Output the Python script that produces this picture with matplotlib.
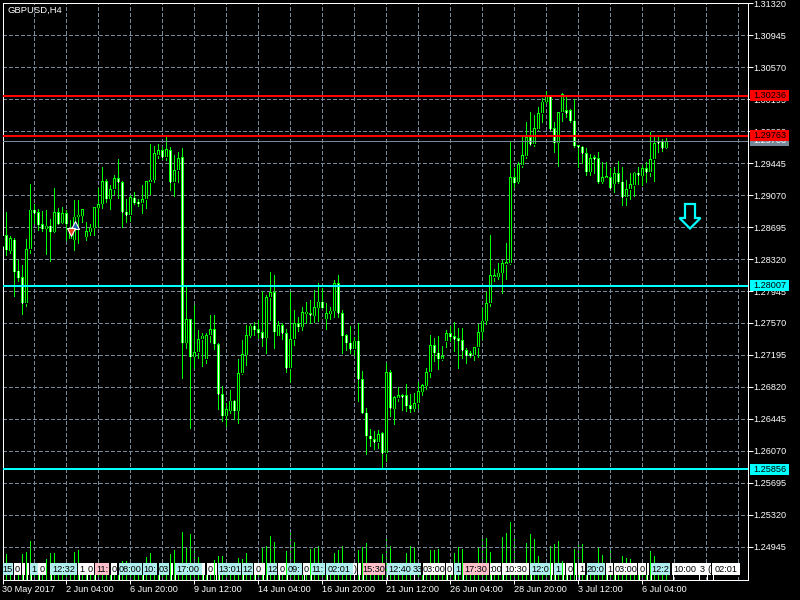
import matplotlib
matplotlib.use('Agg')
import matplotlib.pyplot as plt
import numpy as np
from matplotlib.patches import Rectangle, Polygon

plt.rcParams['font.family'] = ['Liberation Sans', 'DejaVu Sans']

opens = [
    1.28474,1.28599,1.28419,1.28544,1.28181,1.28107,1.27799,1.28435,1.28895,1.28868,
    1.28727,1.28673,1.28712,1.28641,1.28868,1.28747,1.28856,1.28552,1.28544,1.28813,
    1.28825,1.28583,1.28641,1.28688,1.28922,1.28965,1.29230,1.29028,1.29137,1.29265,
    1.29219,1.28875,1.28833,1.29039,1.28985,1.28973,1.29020,1.29219,1.29246,1.29538,
    1.29593,1.29511,1.29593,1.29219,1.29359,1.29511,1.27339,1.27613,1.27175,1.27226,
    1.27382,1.27144,1.27426,1.27496,1.27320,1.26734,1.26484,1.26542,1.26656,1.26542,
    1.26980,1.27195,1.27421,1.27535,1.27496,1.27461,1.27398,1.27871,1.27929,1.27421,
    1.27546,1.27449,1.27039,1.27382,1.27566,1.27527,1.27683,1.27683,1.27655,1.27749,
    1.27819,1.27617,1.27679,1.27714,1.28035,1.27683,1.27426,1.27339,1.27265,1.27363,
    1.26910,1.26519,1.26249,1.26207,1.26175,1.26277,1.26043,1.26992,1.26566,1.26691,
    1.26722,1.26722,1.26605,1.26566,1.26628,1.26765,1.26835,1.26992,1.27308,1.27222,
    1.27148,1.27359,1.27449,1.27414,1.27390,1.27367,1.27250,1.27214,1.27191,1.27285,
    1.27468,1.27597,1.27800,1.28113,1.28113,1.28159,1.28265,1.28269,1.29278,1.29226,
    1.29421,1.29527,1.29746,1.29664,1.29843,1.30027,1.30163,1.30230,1.29851,1.29683,
    1.30039,1.30066,1.30066,1.29941,1.29652,1.29636,1.29558,1.29343,1.29511,1.29500,
    1.29226,1.29273,1.29278,1.29199,1.29324,1.29226,1.29043,1.29137,1.29187,1.29331,
    1.29296,1.29383,1.29336,1.29488,1.29703,1.29695,1.29624]
closes = [
    1.28591,1.28427,1.28564,1.28173,1.28103,1.27799,1.28435,1.28895,1.28856,1.28723,
    1.28677,1.28712,1.28641,1.28868,1.28731,1.28856,1.28731,1.28661,1.28817,1.28836,
    1.28903,1.28645,1.28684,1.28926,1.28961,1.29230,1.29028,1.29137,1.29265,1.29219,
    1.28868,1.28833,1.29043,1.28981,1.28973,1.29020,1.29230,1.29250,1.29558,1.29593,
    1.29511,1.29605,1.29219,1.29359,1.29499,1.27339,1.27613,1.27175,1.27226,1.27382,
    1.27418,1.27429,1.27496,1.27324,1.26734,1.26484,1.26562,1.26656,1.26542,1.26980,
    1.27206,1.27426,1.27535,1.27488,1.27456,1.27394,1.27871,1.27929,1.27468,1.27546,
    1.27449,1.27039,1.27382,1.27566,1.27527,1.27695,1.27695,1.27664,1.27754,1.27819,
    1.27749,1.27683,1.27714,1.28035,1.27683,1.27421,1.27339,1.27265,1.27363,1.26910,
    1.26519,1.26249,1.26214,1.26175,1.26269,1.26043,1.26992,1.26570,1.26699,1.26722,
    1.26703,1.26601,1.26566,1.26628,1.26769,1.26843,1.26992,1.27308,1.27222,1.27152,
    1.27183,1.27449,1.27409,1.27379,1.27363,1.27250,1.27191,1.27187,1.27285,1.27461,
    1.27597,1.27800,1.28129,1.28121,1.28159,1.28269,1.28273,1.29278,1.29214,1.29430,
    1.29535,1.29746,1.29667,1.29851,1.30027,1.30163,1.30230,1.29840,1.29683,1.30039,
    1.30253,1.30027,1.29941,1.29648,1.29636,1.29558,1.29343,1.29500,1.29495,1.29226,
    1.29278,1.29278,1.29148,1.29324,1.29226,1.29043,1.29137,1.29195,1.29331,1.29301,
    1.29383,1.29336,1.29488,1.29676,1.29676,1.29617,1.29695]
highs = [
    1.28591,1.28868,1.28591,1.28564,1.28310,1.28251,1.28552,1.29195,1.28965,1.28903,
    1.28883,1.28895,1.28790,1.29149,1.28914,1.28926,1.28895,1.28778,1.29012,1.29012,
    1.28903,1.28751,1.28731,1.28926,1.29149,1.29394,1.29254,1.29187,1.29301,1.29488,
    1.29238,1.29020,1.29070,1.29102,1.29020,1.29187,1.29234,1.29663,1.29648,1.29667,
    1.29636,1.29745,1.29636,1.29538,1.29577,1.29617,1.27995,1.27613,1.27780,1.27488,
    1.27449,1.27456,1.27664,1.27664,1.27339,1.26832,1.26628,1.26785,1.26667,1.27148,
    1.27371,1.27546,1.27558,1.27585,1.27605,1.27948,1.27898,1.28164,1.28128,1.27593,
    1.27573,1.27496,1.27937,1.27722,1.27644,1.27757,1.27812,1.27839,1.27956,1.28035,
    1.27976,1.27808,1.27761,1.28074,1.28128,1.27722,1.27437,1.27538,1.27409,1.27566,
    1.27007,1.26570,1.26324,1.26304,1.26316,1.26296,1.27097,1.27019,1.26714,1.26816,
    1.26738,1.26852,1.26738,1.26746,1.26882,1.26852,1.27042,1.27426,1.27390,1.27418,
    1.27300,1.27488,1.27535,1.27585,1.27508,1.27508,1.27273,1.27242,1.27285,1.27558,
    1.27742,1.27937,1.28601,1.28199,1.28269,1.28308,1.28504,1.29691,1.29383,1.29451,
    1.29753,1.29929,1.30046,1.30007,1.30105,1.30203,1.30289,1.30230,1.29929,1.30046,
    1.30269,1.30230,1.30074,1.30191,1.29656,1.29648,1.29621,1.29550,1.29538,1.29577,
    1.29453,1.29457,1.29383,1.29394,1.29468,1.29394,1.29246,1.29324,1.29343,1.29394,
    1.29421,1.29460,1.29812,1.29753,1.29753,1.29722,1.29734]
lows = [
    1.28474,1.28369,1.28388,1.27881,1.28068,1.27678,1.27764,1.28396,1.28747,1.28661,
    1.28649,1.28380,1.28302,1.28641,1.28731,1.28739,1.28544,1.28552,1.28427,1.28505,
    1.28755,1.28544,1.28602,1.28602,1.28700,1.28918,1.28993,1.28911,1.29082,1.29039,
    1.28692,1.28759,1.28770,1.28965,1.28946,1.28856,1.28922,1.29082,1.29226,1.29499,
    1.29488,1.29480,1.29129,1.29059,1.29226,1.26925,1.27276,1.26343,1.27042,1.27163,
    1.27069,1.27097,1.27351,1.27261,1.26562,1.26425,1.26366,1.26511,1.26445,1.26402,
    1.26969,1.27078,1.27409,1.27429,1.27390,1.27300,1.27214,1.27605,1.27280,1.27429,
    1.27382,1.26999,1.26875,1.27312,1.27480,1.27488,1.27566,1.27566,1.27585,1.27597,
    1.27742,1.27500,1.27617,1.27644,1.27644,1.27222,1.27253,1.27222,1.27195,1.26659,
    1.26511,1.26034,1.26132,1.26093,1.26101,1.25867,1.25956,1.26484,1.26386,1.26656,
    1.26550,1.26542,1.26527,1.26538,1.26577,1.26726,1.26796,1.26941,1.27124,1.27031,
    1.27136,1.27285,1.27359,1.27242,1.27039,1.27163,1.27105,1.27168,1.27136,1.27168,
    1.27386,1.27558,1.27773,1.28066,1.28082,1.27925,1.28089,1.28258,1.29167,1.29214,
    1.29402,1.29500,1.29656,1.29648,1.29832,1.29929,1.30151,1.29832,1.29577,1.29413,
    1.29937,1.29980,1.29929,1.29636,1.29402,1.29448,1.29304,1.29304,1.29324,1.29207,
    1.29207,1.29269,1.29137,1.29108,1.29214,1.28953,1.28953,1.29019,1.29062,1.29199,
    1.29187,1.29226,1.29296,1.29234,1.29577,1.29589,1.29617]
# bars hidden behind the event tags are estimated as 2
volumes = [
    2,23,2,2,2,23,25,36,2,2, 2,18,24,24,2,2,2,2,25,27,
    2,2,2,2,2,2,2,2,2,2, 16,16,2,2,2,2,20,24,2,2,
    2,2,23,27,2,45,29,43,29,20, 2,2,2,17,21,21,2,2,2,19,
    18,24,2,2,2,30,31,41,35,2, 2,26,47,35,2,2,2,28,29,31,
    2,2,2,24,27,31,2,2,2,27, 30,34,2,2,2,23,41,31,2,2,
    2,24,31,30,2,2,2,27,27,28, 2,2,2,24,30,28,2,2,2,30,
    41,39,25,2,2,40,44,55,39,2, 2,34,43,38,21,2,2,31,33,36,
    16,2,2,28,33,33,2,2,2,30, 22,2,30,2,2,21,19,18,2,2,
    2,2,26,21,2,2,2]

price_ticks = [1.31320,1.30945,1.30570,1.30195,1.29820,1.29445,1.29070,1.28695,1.28320,
               1.27945,1.27570,1.27195,1.26820,1.26445,1.26070,1.25695,1.25320,1.24945]
date_labels = ['30 May 2017','2 Jun 04:00','6 Jun 20:00','9 Jun 12:00','14 Jun 04:00','16 Jun 20:00',
               '21 Jun 12:00','26 Jun 04:00','28 Jun 20:00','3 Jul 12:00','6 Jul 04:00']
red_levels = [1.30236, 1.29763]
cyan_levels = [1.28007, 1.25856]
bid_level = 1.29703

# event tags along the bottom: left px, right px, colour, text
C = '#afeeee'; W = '#ffffff'; P = '#ffc0cb'
event_tags = [
    (2.7,12.7,C,'15'),(13.7,21,W,'0'),(22,25.3,W,''),(26.7,29.3,W,''),(30.3,37.7,C,'1'),(38.3,45.7,W,'0'),
    (50.3,77,C,'12:32'),(78.3,85.7,W,'1'),(86.3,93.7,W,'0'),(94.7,109.3,P,'11:'),(110.7,117.3,W,'0'),
    (118.7,141.7,C,'08:00'),(142.7,157.3,C,'10:'),(158.7,169.3,C,'03'),(170.7,173.3,W,''),(174.7,201.7,C,'17:00'),
    (202,205.3,W,''),(206.7,213.7,W,'0'),(215,217,W,''),(218.3,241,C,'13:01'),(242.3,253.3,C,'12'),
    (254.3,261.7,W,'0'),(262.3,265,W,''),(266.7,277.3,C,'12'),(278.3,285.7,W,'0'),(286.7,302,C,'09:'),
    (303,310,W,'0'),(310.7,325,C,'11:'),(326.3,352.7,C,'02:01'),(353.3,356.7,W,')'),(358.3,361,W,''),
    (362.7,385.3,P,'15:30'),(386.7,413,C,'12:40'),(413.3,421.3,C,'33'),(422.7,445,W,'03:00'),(446,453.3,W,'0'),
    (454.3,461.3,C,'1'),(462.7,489.3,P,'17:30'),(490,501,W,':00'),(502,528.7,W,'10:30'),(530,550,C,'12:0'),
    (550.7,553.3,W,''),(554.3,561.7,C,'1'),(562.7,565,W,''),(566.3,573.3,W,'0'),(575,576.7,W,''),(578,585.3,W,'1'),
    (586.7,605,C,'20:0'),(606,613.3,W,'1'),(614.3,637.3,W,'03:00'),(638.3,645.7,W,'0'),(646.7,649.3,W,''),
    (650.7,670,C,'12:2'),(672,698.3,W,'10:00'),(698.3,706.7,W,'3'),(706.7,711,W,'('),(712.3,740,W,'02:01')]

GREEN = '#00ff00'
GRID = '#778899'
FS = 6.6
LW = 0.72
PX = 0.000117  # price per pixel

fig = plt.figure(figsize=(8, 6), dpi=100, facecolor='black')
rect = [2.5/800, 1 - 579.5/600, 745.5/800, 577/600]
vol_ax = fig.add_axes(rect, facecolor='black')
ax = fig.add_axes(rect, sharex=vol_ax)
ax.patch.set_visible(False)

x = np.arange(len(opens))

# volume, 1 unit = 1 px tall
vol_ax.vlines(x, -2.5, volumes, colors=GREEN, lw=LW, antialiased=False)
vol_ax.set_ylim(-2.5, 574.5)
vol_ax.set_yticks([])
vol_ax.tick_params(bottom=False, labelbottom=False)
for s in vol_ax.spines.values():
    s.set_visible(False)

# candles: wick, 3 px green body, 1 px core
ax.vlines(x, lows, highs, colors=GREEN, lw=LW, antialiased=False, zorder=3)
o = np.array(opens)
c = np.array(closes)
tops = np.maximum(o, c)
bots = np.minimum(o, c)
mids = (tops + bots)/2
heights = np.maximum(tops - bots, 2*PX)
ax.bar(x, heights, bottom=mids - heights/2, width=0.75, color=GREEN, linewidth=0, antialiased=False, zorder=3)
core_cols = ['white' if c[i] < o[i] else 'black' for i in x]
ax.vlines(x, mids - heights/2 + PX/2, mids + heights/2 - PX/2, colors=core_cols, lw=LW, antialiased=False, zorder=3.5)

ax.set_xlim(0.02, 0.02 + 745.5/4)
ax.set_ylim(1.24564, 1.31326)

# levels
ax.axhline(bid_level, color=GRID, lw=LW, zorder=4, antialiased=False)
for p in red_levels:
    ax.axhline(p, color='#ff0000', lw=1.44, zorder=4, antialiased=False)
for p in cyan_levels:
    ax.axhline(p, color='#00ffff', lw=1.44, zorder=4, antialiased=False)

# axes and grid
ax.set_axisbelow(True)
ax.yaxis.tick_right()
ax.set_yticks(price_ticks)
ax.set_yticklabels(['%.5f' % p for p in price_ticks])
ax.set_xticks(np.arange(0, 16*len(date_labels), 16))
ax.set_xticklabels(date_labels)
ax.set_xticks(np.arange(8, 186, 8), minor=True)
for lab in ax.get_xticklabels():
    lab.set_ha('left')
ax.tick_params(axis='y', colors='white', length=3.6, width=LW, labelsize=FS, pad=0)
ax.tick_params(axis='x', which='major', colors='white', length=3, width=LW, labelsize=FS, pad=1)
ax.tick_params(axis='x', which='minor', length=0)
ax.grid(True, which='both', color=GRID, lw=LW, linestyle=(0, (4, 2.6)), antialiased=False)
for s in ax.spines.values():
    s.set_color('white')
    s.set_linewidth(LW)

# price tags on the right, later ones cover earlier ones
def price_tag(p, fc, tc, z):
    t = ax.get_yaxis_transform()
    x0 = 1 + 2/745.5
    ax.add_patch(Rectangle((x0, p - 5.5*PX), 39/745.5, 11*PX, transform=t, facecolor=fc,
                           edgecolor='none', clip_on=False, zorder=z))
    ax.text(x0 + 19.5/745.5, p, '%.5f' % p, transform=t, color=tc, fontsize=FS, ha='center', va='center',
            clip_on=False, zorder=z + 0.5)

price_tag(bid_level, GRID, 'white', 6)
for p in red_levels:
    price_tag(p, '#ff0000', 'black', 7)
for p in cyan_levels:
    price_tag(p, '#00ffff', 'black', 7)

# pixel overlay for tags, arrow and title
ov = fig.add_axes([0, 0, 1, 1])
ov.set_xlim(0, 800)
ov.set_ylim(600, 0)
ov.axis('off')

for x0, x1, col, txt in event_tags:
    ov.add_patch(Rectangle((x0, 562.7), x1 - x0, 12.4, facecolor=col, edgecolor='none'))
    ov.plot([x0 + 0.5, x0 + 0.5], [575, 579], color='white', lw=LW, antialiased=False)
    if txt:
        ov.text((x0 + x1)/2, 569, txt, color='black', fontsize=FS, ha='center', va='center')

ov.text(7, 10, 'GBPUSD,H4', color='white', fontsize=6.8, ha='left', va='center')

arrow_pts = [(685, 204), (695, 204), (695, 218), (700.5, 218), (690, 228.5), (679.5, 218), (685, 218)]
ov.add_patch(Polygon(arrow_pts, closed=True, facecolor='black', edgecolor='#00ffff', lw=1.6, joinstyle='miter'))

ov.plot([74.5], [225], marker='^', ms=6, color='#1f5fa8', mec='white', mew=0.8)
ov.plot([70.5], [232], marker='v', ms=6, color='#e8401c', mec='white', mew=0.8)

fig.savefig('out.png', dpi=100, facecolor='black')
